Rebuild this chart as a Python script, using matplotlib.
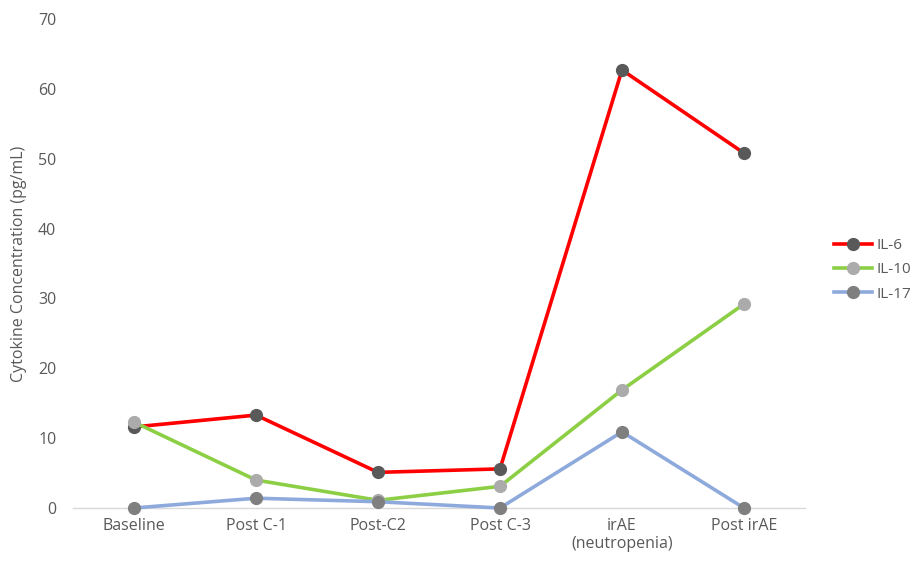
import numpy as np
import matplotlib
matplotlib.use('Agg')
import matplotlib.pyplot as plt

plt.rcParams['font.family'] = ['Open Sans', 'DejaVu Sans']

stages = ['Baseline', 'Post C-1', 'Post-C2', 'Post C-3', 'irAE\n(neutropenia)', 'Post irAE']
il6 = [11.6, 13.3, 5.1, 5.6, 62.7, 50.8]
il10 = [12.3, 4.0, 1.1, 3.1, 16.9, 29.2]
il17 = [0.0, 1.4, 0.9, 0.0, 10.9, 0.0]

series = [
    ('IL-6', il6, '#FF0000', '#595959'),
    ('IL-10', il10, '#8CCF45', '#ABABAB'),
    ('IL-17', il17, '#8EAADC', '#7F7F7F'),
]

fig = plt.figure(figsize=(9.19, 5.68), dpi=100)
ax = fig.add_axes([73 / 919, 60 / 568, 732 / 919, 489 / 568])

x = np.arange(len(stages))
for name, vals, col, mcol in series:
    ax.plot(x, vals, color=col, lw=2.6, marker='o', ms=8.5,
            mfc=mcol, mec=mcol, label=name, clip_on=False, zorder=3)

ax.set_xlim(-0.5, len(stages) - 0.5)
ax.set_ylim(0, 70)
ax.set_yticks(range(0, 71, 10))
ax.set_xticks(x)
ax.set_xticklabels(stages)
for s in ['top', 'right', 'left']:
    ax.spines[s].set_visible(False)
ax.spines['bottom'].set_color('#D9D9D9')
ax.spines['bottom'].set_linewidth(1)
ax.tick_params(axis='both', length=0, labelsize=11.5, colors='#595959', pad=7)
ax.tick_params(axis='y', pad=12)
ax.set_ylabel('Cytokine Concentration (pg/mL)', fontsize=11.5, color='#595959', labelpad=8)

leg = ax.legend(loc='center left', bbox_to_anchor=(1.025, 0.487), frameon=False,
                fontsize=11, labelspacing=0.62, handlelength=2.5, handletextpad=0.25,
                borderaxespad=0.3)
for t in leg.get_texts():
    t.set_color('#595959')

fig.savefig('out.png', dpi=100)
